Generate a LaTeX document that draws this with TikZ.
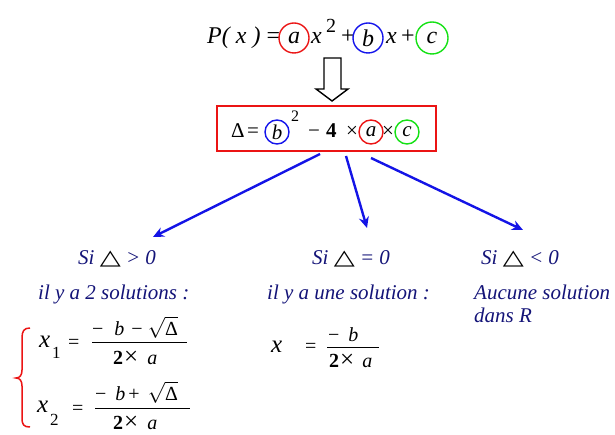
\documentclass[tikz,border=0pt]{standalone}
\usepackage{graphicx}
\usepackage{fontspec}
\setmainfont{Liberation Serif}
\newfontfamily\dejavu{DejaVu Sans}
\usetikzlibrary{arrows.meta}
\definecolor{navyt}{RGB}{20,20,120}
\definecolor{arrblue}{RGB}{20,20,230}
\definecolor{cred}{RGB}{235,20,20}
\definecolor{cblue}{RGB}{20,20,235}
\definecolor{cgreen}{RGB}{20,225,20}
\newcommand{\tri}{{\color{black}\dejavu\bfseries\scalebox{1.3}[1.0]{△}}}
\newcommand{\bigx}{{\fontsize{25}{25}\selectfont ×}}
\begin{document}
\begin{tikzpicture}[x=1pt,y=-1pt,
  txt/.style={inner sep=0pt, anchor=base west},
  big/.style={txt, font=\fontsize{24}{28}\selectfont},
  mid/.style={txt, font=\fontsize{21}{25}\selectfont},
  lab/.style={txt, font=\fontsize{21}{25}\selectfont\itshape, text=navyt},
  frac/.style={txt, font=\fontsize{20}{24}\selectfont},
  xvar/.style={txt, font=\fontsize{25}{28}\selectfont\itshape},
  subs/.style={txt, font=\fontsize{17}{19}\selectfont},
  circ/.style={circle, draw=#1, line width=1.4pt, inner sep=0pt},
  barline/.style={line width=1pt},
  blarrow/.style={draw=arrblue, line width=2.4pt, -{Stealth[length=11pt,width=10pt]}},
]
\useasboundingbox (0,0) rectangle (615,435);

% top formula
\node[big] (P) at (207,44) {\textit{P}\textit{( x )} =};
\node[circ=cred, minimum size=30pt, font=\fontsize{24}{28}\selectfont\itshape] (ca) at (294,38) {a};
\node[big] (xa) at (311,44) {\textit{x}};
\node[txt, font=\fontsize{20}{24}\selectfont] (sq) at (326,33) {2};
\node[big] (p1) at (341,44) {+};
\node[circ=cblue, minimum size=30pt, font=\fontsize{24}{28}\selectfont\itshape] (cb) at (368,38) {b};
\node[big] (xb) at (386,44) {\textit{x}};
\node[big] (p2) at (401,44) {+};
\node[circ=cgreen, minimum size=32pt, font=\fontsize{24}{28}\selectfont\itshape] (cc) at (432,38) {c};

% hollow arrow
\draw[line width=1.4pt, line join=miter] (324,58) -- (341,58) -- (341,89) -- (348,89) -- (332,101) -- (316,89) -- (324,89) -- cycle;

% delta box
\node[draw=cred, line width=1.5pt, minimum width=219pt, minimum height=45pt, inner sep=0pt] (box) at (326.5,128.5) {};
\node[mid] (D) at (231,138) {Δ};
\node[mid] (eq0) at (247,138) {=};
\node[circ=cblue, minimum size=24pt, font=\fontsize{21}{25}\selectfont\itshape] (db) at (277,132) {b};
\node[txt, font=\fontsize{16}{18}\selectfont] (d2) at (291,122) {2};
\node[mid] (dm) at (308,138) {−};
\node[mid] (d4) at (326,138) {\textbf{4}};
\node[mid] (dt1) at (346,138) {×};
\node[circ=cred, minimum size=24pt, font=\fontsize{21}{25}\selectfont\itshape] (da) at (371,132) {a};
\node[mid] (dt2) at (382,138) {×};
\node[circ=cgreen, minimum size=24pt, font=\fontsize{21}{25}\selectfont\itshape] (dc) at (407,132) {c};

% arrows
\coordinate (s1) at (320,154);
\coordinate (e1) at (153,237);
\coordinate (s2) at (346,156);
\coordinate (e2) at (367,228);
\coordinate (s3) at (371,158);
\coordinate (e3) at (523,230);
\draw[blarrow] (s1) -- (e1);
\draw[blarrow] (s2) -- (e2);
\draw[blarrow] (s3) -- (e3);

% labels
\node[lab] (L1) at (78,265) {Si \tri{} > 0};
\node[lab] (L2) at (312,265) {Si \tri{} = 0};
\node[lab] (L3) at (481,265) {Si \tri{} < 0};
\node[lab] (M1) at (38,300) {il y a 2 solutions :};
\node[lab] (M2) at (267,300) {il y a une solution :};
\node[lab] (M3) at (474,300) {Aucune solution};
\node[lab] (M4) at (474,322) {dans R};

% left solutions
\draw[cred, line width=1.5pt] (30,328) .. controls (24,328) and (22,331) .. (22,338) -- (22,370) .. controls (22,375) and (20,378) .. (16,378) .. controls (20,378) and (22,381) .. (22,386) -- (22,418) .. controls (22,425) and (24,427) .. (30,427);
\node[xvar] (xo) at (39,347) {x};
\node[subs] (xo1) at (52,358) {1};
\node[frac] (eq1) at (68,348) {=};
\node[frac] (n1) at (92,335) {−\hspace{11pt}\textit{b}\hspace{7pt}−\hspace{5pt}\smash{$\sqrt{\hbox{Δ}}$}};
\draw[barline] (92,342) -- (187,342);
\node[frac] (d1) at (113,364) {\textbf{2}\hspace{1pt}\bigx\hspace{9pt}\textit{a}};

\node[xvar] (xt) at (37,412) {x};
\node[subs] (xt2) at (50,425) {2};
\node[frac] (eq2) at (72,414) {=};
\node[frac] (n2) at (95,400) {−\hspace{9pt}\textit{b}\hspace{3pt}+\hspace{8pt}\smash{$\sqrt{\hbox{Δ}}$}};
\draw[barline] (95,408) -- (190,408);
\node[frac] (d2b) at (113,429) {\textbf{2}\hspace{1pt}\bigx\hspace{9pt}\textit{a}};

% middle solution
\node[xvar] (xm) at (271,352) {x};
\node[frac] (eqm) at (305,352) {=};
\node[frac] (nm) at (328,341) {−\hspace{9pt}\textit{b}};
\draw[barline] (327,347) -- (379,347);
\node[frac] (dm2) at (329,367) {\textbf{2}\hspace{1pt}\bigx\hspace{8pt}\textit{a}};
\end{tikzpicture}
\end{document}
